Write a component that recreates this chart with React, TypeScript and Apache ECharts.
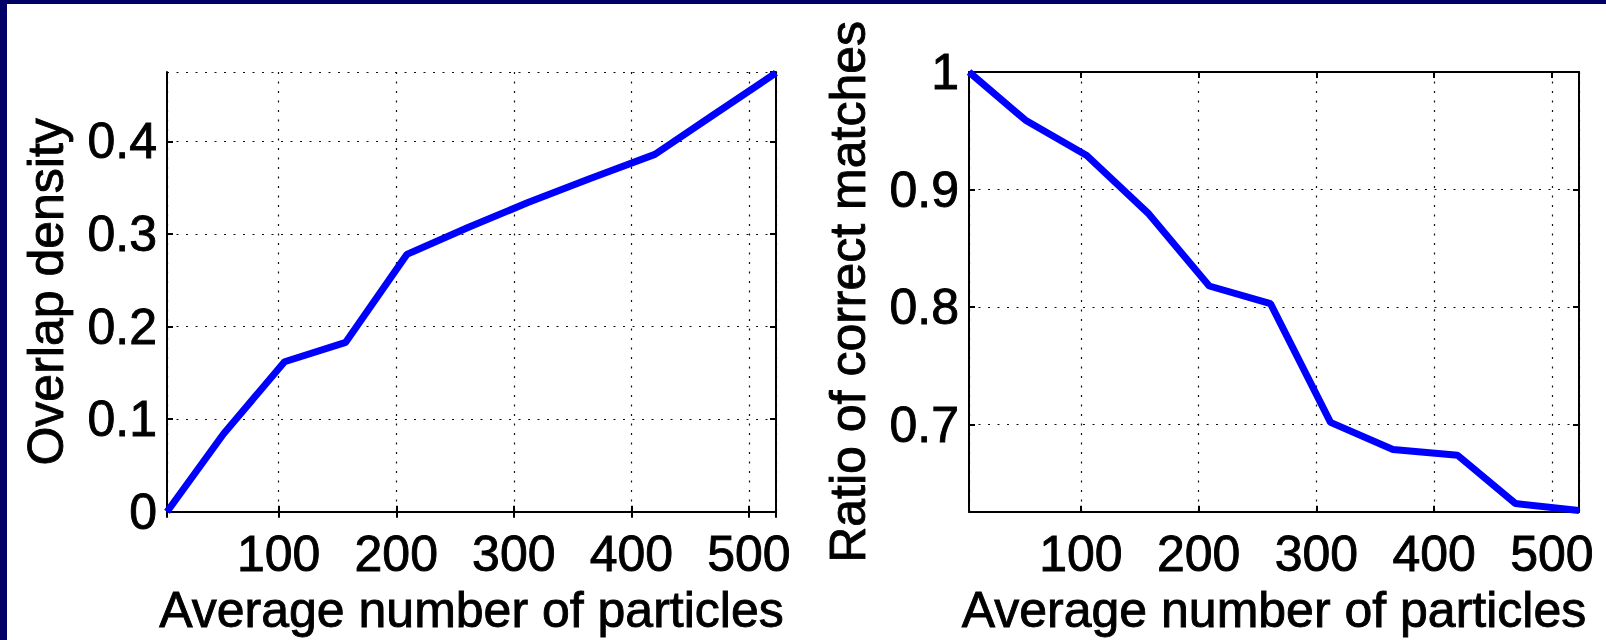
import React, { useEffect, useRef } from "react";
import * as echarts from "echarts";

const particles = [5, 53, 105, 157, 209, 261, 312, 365, 420, 469, 523];
const overlapDensity = [0, 0.084, 0.162, 0.183, 0.278, 0.307, 0.334, 0.36, 0.386, 0.428, 0.474];
const correctRatio = [1.0, 0.959, 0.929, 0.88, 0.818, 0.803, 0.702, 0.679, 0.674, 0.633, 0.627];
const xTitle = "Average number of particles";
const leftTitle = "Overlap density";
const rightTitle = "Ratio of correct matches";

const FONT = "'Liberation Sans', Arial, Helvetica, sans-serif";
const textStyle = {
  fontFamily: FONT,
  fontSize: 50,
  color: "#000",
  textBorderColor: "#000",
  textBorderWidth: 0.9,
};

export default function App() {
  const ref = useRef<HTMLDivElement>(null);
  useEffect(() => {
    document.body.style.margin = "0";
    const chart = echarts.init(ref.current!, null, { renderer: "svg" });
    const grids = [
      { left: 167, top: 72, width: 609, height: 445 },
      { left: 969, top: 72, width: 610, height: 445 },
    ];
    const xRange = { min: 5, max: 523 };
    const yRanges = [
      { min: 0, max: 0.475 },
      { min: 0.626, max: 1 },
    ];
    const splitLine = {
      show: true,
      lineStyle: { color: "#111", width: 1.2, type: [2, 7.5] as any },
    };
    const tickIn = { show: true, inside: true, length: 6, lineStyle: { color: "#000", width: 2 } };
    const axisLineStyle = { show: true, lineStyle: { color: "#000", width: 2 } };

    const xAxes: any[] = [];
    const yAxes: any[] = [];
    [0, 1].forEach((g) => {
      xAxes.push({
        type: "value",
        gridIndex: g,
        ...xRange,
        position: "bottom",
        name: xTitle,
        nameLocation: "middle",
        nameGap: 66,
        nameTextStyle: textStyle,
        axisLine: axisLineStyle,
        axisTick: tickIn,
        splitLine,
        axisLabel: {
          ...textStyle,
          margin: 17,
          showMinLabel: false,
          showMaxLabel: false,
        },
      });
      yAxes.push({
        type: "value",
        gridIndex: g,
        ...yRanges[g],
        position: "left",
        name: g === 0 ? leftTitle : rightTitle,
        nameLocation: "middle",
        nameGap: 96,
        nameRotate: 90,
        nameTextStyle: textStyle,
        axisLine: axisLineStyle,
        axisTick: tickIn,
        splitLine,
        axisLabel: {
          ...textStyle,
          margin: 10,
          showMinLabel: g === 0,
          showMaxLabel: g === 1,
        },
      });
    });
    [0, 1].forEach((g) => {
      xAxes.push({
        type: "value",
        gridIndex: g,
        ...xRange,
        position: "top",
        axisLine: axisLineStyle,
        axisTick: tickIn,
        splitLine: { show: false },
        axisLabel: { show: false },
      });
      yAxes.push({
        type: "value",
        gridIndex: g,
        ...yRanges[g],
        position: "right",
        axisLine: axisLineStyle,
        axisTick: tickIn,
        splitLine: { show: false },
        axisLabel: { show: false },
      });
    });

    chart.setOption({
      animation: false,
      backgroundColor: "#fff",
      grid: grids,
      xAxis: xAxes,
      yAxis: yAxes,
      graphic: [
        { type: "rect", left: 0, top: 0, shape: { width: 1606, height: 4 }, style: { fill: "#000066" } },
        { type: "rect", left: 0, top: 0, shape: { width: 7, height: 640 }, style: { fill: "#000066" } },
      ],
      series: [
        {
          type: "line",
          xAxisIndex: 0,
          yAxisIndex: 0,
          data: particles.map((x, i) => [x, overlapDensity[i]]),
          showSymbol: false,
          lineStyle: { color: "#0000ff", width: 7 },
          clip: false,
        },
        {
          type: "line",
          xAxisIndex: 1,
          yAxisIndex: 1,
          data: particles.map((x, i) => [x, correctRatio[i]]),
          showSymbol: false,
          lineStyle: { color: "#0000ff", width: 7 },
          clip: false,
        },
      ],
    });
    return () => chart.dispose();
  }, []);
  return (
    <div
      ref={ref}
      style={{ position: "absolute", left: 0, top: 0, width: 1606, height: 640 }}
    />
  );
}
